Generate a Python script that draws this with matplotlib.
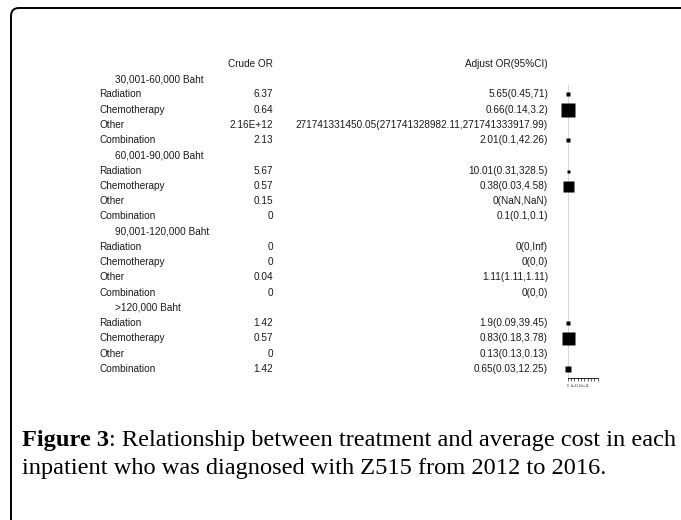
import numpy as np
import matplotlib.pyplot as plt
from matplotlib import transforms
from matplotlib.patches import FancyBboxPatch

# cost groups and treatments (rows of the forest table)
groups = ["30,001-60,000 Baht", "60,001-90,000 Baht",
          "90,001-120,000 Baht", ">120,000 Baht"]
treatments = ["Radiation", "Chemotherapy", "Other", "Combination"]

crude_or = ["6.37", "0.64", "2.16E+12", "2.13",
            "5.67", "0.57", "0.15", "0",
            "0", "0", "0.04", "0",
            "1.42", "0.57", "0", "1.42"]

adjust_or = ["5.65(0.45,71)", "0.66(0.14,3.2)",
             "271741331450.05(271741328982.11,271741333917.99)", "2.01(0.1,42.26)",
             "10.01(0.31,328.5)", "0.38(0.03,4.58)", "0(NaN,NaN)", "0.1(0.1,0.1)",
             "0(0,Inf)", "0(0,0)", "1.11(1.11,1.11)", "0(0,0)",
             "1.9(0.09,39.45)", "0.83(0.18,3.78)", "0.13(0.13,0.13)", "0.65(0.03,12.25)"]

# box side (px) per row, 0 = no box drawn
box_px = [3.5, 14, 0, 4.5,
          3, 11, 0, 0,
          0, 0, 0, 0,
          4, 13, 0, 6]

xticks = np.arange(0, 4.51e11, 5e10)
xtick_labels = {0: "0", 1e11: "1e+11", 2.5e11: "2.5e+11"}


def parse_ci(s):
    est, rest = s.split("(")
    lo, hi = rest.rstrip(")").split(",")
    return float(est), float(lo), float(hi)


W, H = 681, 520
fig = plt.figure(figsize=(W / 100, H / 100), dpi=100)
plt.rcParams["font.family"] = ["Liberation Sans", "DejaVu Sans"]

# row layout: row 0 at y=79px, step 15.26px
row0, step = 79, 15.26
ax_top, ax_bot = 71, 378
x0, x1 = 567.7, 597.7
ax = fig.add_axes([x0 / W, 1 - ax_bot / H, (x1 - x0) / W, (ax_bot - ax_top) / H])
ax.set_ylim((ax_bot - row0) / step, (ax_top - row0) / step)
ax.set_xlim(0, 4.5e11)
ax.patch.set_alpha(0)
for side in ["top", "right", "left"]:
    ax.spines[side].set_visible(False)
ax.spines["bottom"].set_linewidth(0.6)
ax.set_yticks([])
ax.set_xticks(xticks)
ax.set_xticklabels([xtick_labels.get(t, "") for t in xticks])
ax.tick_params(axis="x", length=2.5, width=0.5, labelsize=2.2, pad=1.5,
               colors="#222222")

ax.plot([1, 1], [0.4, ax.get_ylim()[0]], color="#d8d8d8", lw=0.8, zorder=1)

trans = transforms.blended_transform_factory(fig.transFigure, ax.transData)
txt = dict(fontsize=7.2, color="#1a1a1a", va="center", transform=trans)

ax.text(273 / W, -1, "Crude OR", ha="right", **txt)
ax.text(548 / W, -1, "Adjust OR(95%CI)", ha="right", **txt)

row = 0
k = 0
for g in groups:
    ax.text(115 / W, row, g, ha="left", **txt)
    row += 1
    for t in treatments:
        ax.text(99 / W, row, t, ha="left", **txt)
        ax.text(273 / W, row, crude_or[k], ha="right", **txt)
        ax.text(548 / W, row, adjust_or[k], ha="right", **txt)
        est, lo, hi = parse_ci(adjust_or[k])
        if box_px[k] > 0:
            ax.plot([lo, hi], [row, row], color="black", lw=0.6, zorder=2)
            ax.plot(est, row, marker="s", ms=box_px[k] * 0.72, color="black",
                    mec="none", zorder=3, clip_on=False)
        row += 1
        k += 1

# caption below the chart, sized so the first line spans 22..675 px
cap_font = ["Liberation Serif", "DejaVu Serif"]
r = fig.canvas.get_renderer()


def caption(size):
    t1 = fig.text(22 / W, 1 - 446 / H, "Figure 3", fontsize=size, family=cap_font,
                  fontweight="bold", va="baseline")
    bb = t1.get_window_extent(renderer=r)
    t2 = fig.text(bb.x1 / W, 1 - 446 / H,
                  ": Relationship between treatment and average cost in each",
                  fontsize=size, family=cap_font, va="baseline")
    t3 = fig.text(22 / W, 1 - 474 / H,
                  "inpatient who was diagnosed with Z515 from 2012 to 2016.",
                  fontsize=size, family=cap_font, va="baseline")
    return [t1, t2, t3], t2.get_window_extent(renderer=r).x1


texts, right = caption(16)
size = 16 * (675 - 22) / (right - 22)
for t in texts:
    t.remove()
caption(size)

# frame around the figure panel
frame = FancyBboxPatch((11, -60), 760, H - 8 + 60,
                       boxstyle="round,pad=0,rounding_size=8",
                       transform=transforms.IdentityTransform(),
                       fill=False, ec="black", lw=1.4)
fig.patches.append(frame)

fig.savefig("out.png", dpi=100)
